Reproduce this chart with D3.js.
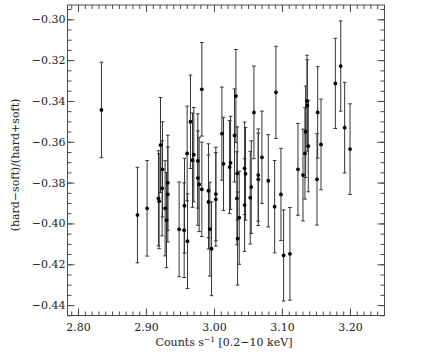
<!DOCTYPE html>
<html>
<head>
<meta charset="utf-8">
<script src="https://cdn.jsdelivr.net/npm/d3@7"></script>
<style>
  html, body { margin: 0; padding: 0; background: #fff; }
  svg { display: block; }
  text { font-family: "DejaVu Serif", "Liberation Serif", serif; fill: #222; }
</style>
</head>
<body>
<script>
// ---- data ----
const countRate = [2.8344, 2.8874, 2.9016, 2.9183, 2.9193, 2.9213, 2.9237, 2.9242, 2.9281, 2.9301,
  2.9321, 2.9321, 2.9487, 2.9561, 2.9566, 2.9605, 2.9610, 2.9654, 2.9684, 2.9703,
  2.9762, 2.9762, 2.9782, 2.9821, 2.9821, 2.9919, 2.9919, 2.9939, 2.9964, 3.0027,
  3.0027, 3.0116, 3.0140, 3.0229, 3.0244, 3.0302, 3.0322, 3.0337, 3.0342, 3.0347,
  3.0371, 3.0450, 3.0464, 3.0450, 3.0533, 3.0548, 3.0587, 3.0651, 3.0651, 3.0705,
  3.0798, 3.0892, 3.0911, 3.0985, 3.1024, 3.1117, 3.1235, 3.1309, 3.1338, 3.1348,
  3.1368, 3.1373, 3.1387, 3.1515, 3.1525, 3.1574, 3.1785, 3.1864, 3.1922, 3.2001];
const hardness = [-0.3444, -0.3959, -0.3926, -0.3877, -0.3891, -0.3616, -0.3828, -0.3735, -0.3926, -0.3984,
  -0.3801, -0.3858, -0.4029, -0.4033, -0.3913, -0.3657, -0.4087, -0.3502, -0.3690, -0.3663,
  -0.3694, -0.3778, -0.3809, -0.3833, -0.3343, -0.3840, -0.3895, -0.4028, -0.4124, -0.3882,
  -0.3856, -0.3560, -0.3708, -0.3724, -0.3703, -0.3569, -0.3376, -0.3877, -0.3755, -0.4074,
  -0.3972, -0.3730, -0.3757, -0.3910, -0.3874, -0.3822, -0.3456, -0.3763, -0.3784, -0.3676,
  -0.3791, -0.3918, -0.3358, -0.3858, -0.4157, -0.4149, -0.3735, -0.3763, -0.3657, -0.3551,
  -0.3400, -0.3422, -0.3621, -0.3784, -0.3456, -0.3613, -0.3314, -0.3229, -0.3531, -0.3636];
const hardnessErr = [0.0234, 0.0234, 0.0234, 0.0233, 0.0233, 0.0233, 0.0233, 0.0233, 0.0233, 0.0233,
  0.0233, 0.0233, 0.0232, 0.0232, 0.0232, 0.0232, 0.0232, 0.0229, 0.0231, 0.0231,
  0.0231, 0.0231, 0.0231, 0.0231, 0.0229, 0.0230, 0.0230, 0.0230, 0.0230, 0.0229,
  0.0229, 0.0228, 0.0228, 0.0228, 0.0228, 0.0228, 0.0228, 0.0228, 0.0228, 0.0228,
  0.0228, 0.0227, 0.0227, 0.0227, 0.0227, 0.0227, 0.0227, 0.0226, 0.0226, 0.0226,
  0.0226, 0.0226, 0.0226, 0.0226, 0.0223, 0.0227, 0.0225, 0.0225, 0.0224, 0.0224,
  0.0224, 0.0224, 0.0224, 0.0224, 0.0224, 0.0222, 0.0221, 0.0221, 0.0222, 0.0222];
const xTickValues = [2.80, 2.90, 3.00, 3.10, 3.20];
const xTickLabels = ["2.80", "2.90", "3.00", "3.10", "3.20"];
const yTickValues = [-0.44, -0.42, -0.40, -0.38, -0.36, -0.34, -0.32, -0.30];
const yTickLabels = ["\u22120.44", "\u22120.42", "\u22120.40", "\u22120.38", "\u22120.36", "\u22120.34", "\u22120.32", "\u22120.30"];
const xTitle = ["Counts s", "\u22121", " [0.2\u221210 keV]"];
const yTitle = "(hard\u2212soft)/(hard+soft)";

// ---- layout ----
const W = 436, H = 356;
const L = 67.5, R = 384.5, T = 5, B = 315.5;
const xDomain = [2.7845, 3.2508];
const yDomain = [-0.4451, -0.2930];

const x = d3.scaleLinear().domain(xDomain).range([L, R]);
const y = d3.scaleLinear().domain(yDomain).range([B, T]);

const svg = d3.select("body").append("svg").attr("width", W).attr("height", H);

const axisColor = "#4a4a4a";
const major = 7, minor = 4;

const xMinor = d3.range(279, 326).map(d => d / 100).filter(v => v >= xDomain[0] && v <= xDomain[1]);
const yMinor = d3.range(-89, -58).map(d => d / 200).filter(v => v >= yDomain[0] && v <= yDomain[1]);

function styleAxis(g) {
  g.select(".domain").remove();
  g.selectAll("line").attr("stroke", axisColor).attr("stroke-width", 1);
  g.selectAll("text").attr("font-family", "DejaVu Serif, serif").attr("fill", "#222");
}

// minor ticks
svg.append("g").attr("transform", `translate(0,${B})`)
  .call(d3.axisBottom(x).tickValues(xMinor).tickSizeInner(-minor).tickSizeOuter(0).tickFormat(""))
  .call(styleAxis);
svg.append("g").attr("transform", `translate(0,${T})`)
  .call(d3.axisTop(x).tickValues(xMinor).tickSizeInner(-minor).tickSizeOuter(0).tickFormat(""))
  .call(styleAxis);
svg.append("g").attr("transform", `translate(${L},0)`)
  .call(d3.axisLeft(y).tickValues(yMinor).tickSizeInner(-minor).tickSizeOuter(0).tickFormat(""))
  .call(styleAxis);
svg.append("g").attr("transform", `translate(${R},0)`)
  .call(d3.axisRight(y).tickValues(yMinor).tickSizeInner(-minor).tickSizeOuter(0).tickFormat(""))
  .call(styleAxis);

// major ticks with labels
svg.append("g").attr("transform", `translate(0,${B})`)
  .call(d3.axisBottom(x).tickValues(xTickValues).tickSizeInner(-major).tickSizeOuter(0).tickPadding(8)
    .tickFormat((d, i) => xTickLabels[i]))
  .call(styleAxis)
  .call(g => g.selectAll("text").attr("font-size", 11));
svg.append("g").attr("transform", `translate(0,${T})`)
  .call(d3.axisTop(x).tickValues(xTickValues).tickSizeInner(-major).tickSizeOuter(0).tickFormat(""))
  .call(styleAxis);
svg.append("g").attr("transform", `translate(${L},0)`)
  .call(d3.axisLeft(y).tickValues(yTickValues).tickSizeInner(-major).tickSizeOuter(0).tickPadding(2)
    .tickFormat((d, i) => yTickLabels[i]))
  .call(styleAxis)
  .call(g => g.selectAll("text").attr("font-size", 11));
svg.append("g").attr("transform", `translate(${R},0)`)
  .call(d3.axisRight(y).tickValues(yTickValues).tickSizeInner(-major).tickSizeOuter(0).tickFormat(""))
  .call(styleAxis);

// frame
svg.append("rect").attr("x", L).attr("y", T).attr("width", R - L).attr("height", B - T)
  .attr("fill", "none").attr("stroke", axisColor).attr("stroke-width", 1);

// data
const pts = countRate.map((c, i) => ({ c, h: hardness[i], e: hardnessErr[i] }));
const cap = 1.8;
const eb = svg.append("g").attr("stroke", "#333").attr("stroke-width", 1);
eb.selectAll("line.v").data(pts).join("line").attr("class", "v")
  .attr("x1", d => x(d.c)).attr("x2", d => x(d.c))
  .attr("y1", d => y(d.h + d.e)).attr("y2", d => y(d.h - d.e));
eb.selectAll("line.t").data(pts).join("line").attr("class", "t")
  .attr("x1", d => x(d.c) - cap).attr("x2", d => x(d.c) + cap)
  .attr("y1", d => y(d.h + d.e)).attr("y2", d => y(d.h + d.e));
eb.selectAll("line.b").data(pts).join("line").attr("class", "b")
  .attr("x1", d => x(d.c) - cap).attr("x2", d => x(d.c) + cap)
  .attr("y1", d => y(d.h - d.e)).attr("y2", d => y(d.h - d.e));

svg.append("g").selectAll("circle").data(pts).join("circle")
  .attr("cx", d => x(d.c)).attr("cy", d => y(d.h)).attr("r", 1.9).attr("fill", "#000");

// titles
const xt = svg.append("text").attr("x", (L + R) / 2 - 2).attr("y", 346)
  .attr("text-anchor", "middle").attr("font-size", 11);
xt.append("tspan").text(xTitle[0]);
xt.append("tspan").attr("dy", -4).attr("font-size", 7.5).text(xTitle[1]);
xt.append("tspan").attr("dy", 4).text(xTitle[2]);

svg.append("text").attr("transform", `translate(19,165) rotate(-90)`)
  .attr("text-anchor", "middle").attr("font-size", 11).text(yTitle);
</script>
</body>
</html>
